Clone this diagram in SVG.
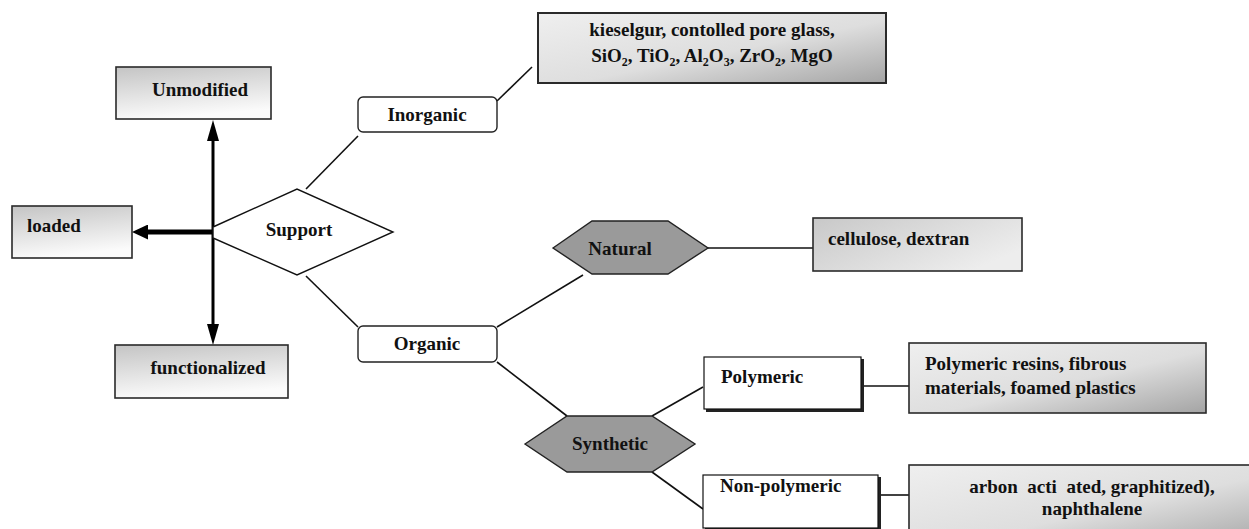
<svg xmlns="http://www.w3.org/2000/svg" width="1249" height="529" viewBox="0 0 1249 529" font-family="'Liberation Serif', 'Times New Roman', Times, serif">
<style>
text{font-family:'Liberation Serif','Times New Roman',Times,serif;font-weight:700;font-size:19px;fill:#111}
.sub{font-size:12px}
.bx{stroke:#2a2a2a;stroke-width:1.6}
.rb{fill:#fff;stroke:#222;stroke-width:1.4}
.hx{fill:#9a9a9a;stroke:#222;stroke-width:1.4}
.wb{fill:#fff;stroke:#111;stroke-width:1.2}
.sh{fill:#222}
#connectors line{stroke:#111;stroke-width:1.6}
#connectors .arr{stroke:#000}
</style>
<defs>
<linearGradient id="gv" x1="0" y1="0" x2="0.25" y2="1">
<stop offset="0" stop-color="#c4c4c4"/><stop offset="1" stop-color="#fbfbfb"/>
</linearGradient>
<linearGradient id="gd" x1="0" y1="0" x2="1" y2="1">
<stop offset="0" stop-color="#efefef"/><stop offset="0.55" stop-color="#dedede"/><stop offset="1" stop-color="#a4a4a4"/>
</linearGradient>
<linearGradient id="gc" x1="0" y1="0" x2="1" y2="0.6">
<stop offset="0" stop-color="#c8c8c8"/><stop offset="1" stop-color="#ededed"/>
</linearGradient>
<marker id="ahV" markerUnits="userSpaceOnUse" viewBox="0 0 21 12" markerWidth="21" markerHeight="12" refX="0" refY="6" orient="auto-start-reverse">
<path d="M0,0 L21,6 L0,12 z" fill="#000"/>
</marker>
<marker id="ahH" markerUnits="userSpaceOnUse" viewBox="0 0 16 15" markerWidth="16" markerHeight="15" refX="0" refY="7.5" orient="auto">
<path d="M0,0 L16,7.5 L0,15 z" fill="#000"/>
</marker>
</defs>

<g id="connectors">
<line class="arr" x1="213" y1="141" x2="213" y2="324" style="stroke-width:3" marker-start="url(#ahV)" marker-end="url(#ahV)"/>
<line class="arr" x1="213" y1="232" x2="148" y2="232" style="stroke-width:5" marker-end="url(#ahH)"/>
<line x1="306" y1="189" x2="358" y2="136"/>
<line x1="497" y1="101" x2="532" y2="67"/>
<line x1="306" y1="276" x2="358" y2="327"/>
<line x1="497" y1="327" x2="583" y2="275"/>
<line x1="497" y1="362" x2="567" y2="416"/>
<line x1="708" y1="248" x2="813" y2="248"/>
<line x1="652" y1="416" x2="703" y2="387"/>
<line x1="652" y1="472" x2="703" y2="509"/>
<line x1="862" y1="386" x2="909" y2="386"/>
<line x1="879" y1="495" x2="909" y2="495"/>
</g>

<g id="unmodified">
<rect class="bx" x="116" y="67" width="155" height="52" fill="url(#gv)"/>
<text x="200" y="96" text-anchor="middle">Unmodified</text>
</g>
<g id="loaded">
<rect class="bx" x="12" y="206" width="120" height="52" fill="url(#gv)"/>
<text x="27" y="232">loaded</text>
</g>
<g id="functionalized">
<rect class="bx" x="115" y="345" width="173" height="53" fill="url(#gv)"/>
<text x="208" y="374" text-anchor="middle">functionalized</text>
</g>
<g id="support">
<polygon points="213,227 297,189 393,232 297,275 213,238" fill="#fff" stroke="#111" stroke-width="1.4"/>
<text x="299" y="236" text-anchor="middle">Support</text>
</g>
<g id="inorganic">
<rect class="rb" x="358" y="97" width="139" height="35" rx="5"/>
<text x="427" y="121" text-anchor="middle">Inorganic</text>
</g>
<g id="organic">
<rect class="rb" x="358" y="326" width="139" height="36" rx="5"/>
<text x="427" y="350" text-anchor="middle">Organic</text>
</g>
<g id="inorganic-examples">
<rect class="bx" x="538" y="13" width="348" height="70" fill="url(#gd)" style="stroke-width:2"/>
<text x="712" y="36" text-anchor="middle">kieselgur, contolled pore glass,</text>
<text x="712" y="62" text-anchor="middle">SiO<tspan class="sub" dy="4">2</tspan><tspan dy="-4">, TiO</tspan><tspan class="sub" dy="4">2</tspan><tspan dy="-4">, Al</tspan><tspan class="sub" dy="4">2</tspan><tspan dy="-4">O</tspan><tspan class="sub" dy="4">3</tspan><tspan dy="-4">, ZrO</tspan><tspan class="sub" dy="4">2</tspan><tspan dy="-4">, MgO</tspan></text>
</g>
<g id="natural">
<polygon class="hx" points="553,248 592,221 668,221 708,248 668,274 592,274"/>
<text x="620" y="255" text-anchor="middle">Natural</text>
</g>
<g id="natural-examples">
<rect class="bx" x="813" y="218" width="209" height="53" fill="url(#gc)"/>
<text x="828" y="245">cellulose, dextran</text>
</g>
<g id="synthetic">
<polygon class="hx" points="525,444 567,416 652,416 695,444 652,472 567,472"/>
<text x="610" y="450" text-anchor="middle">Synthetic</text>
</g>
<g id="polymeric">
<rect class="sh" x="706" y="359" width="158" height="53"/>
<rect class="wb" x="704" y="357" width="157" height="52"/>
<text x="721" y="383">Polymeric</text>
</g>
<g id="polymeric-examples">
<rect class="bx" x="909" y="343" width="297" height="70" fill="url(#gd)"/>
<text x="925" y="370">Polymeric resins, fibrous</text>
<text x="925" y="394">materials, foamed plastics</text>
</g>
<g id="non-polymeric">
<rect class="sh" x="705" y="477" width="176" height="53"/>
<rect class="wb" x="703" y="475" width="175" height="53"/>
<text x="720" y="492">Non-polymeric</text>
</g>
<g id="non-polymeric-examples">
<rect class="bx" x="909" y="465" width="366" height="80" fill="url(#gd)"/>
<text x="1092" y="493" text-anchor="middle" xml:space="preserve">arbon  acti  ated, graphitized),</text>
<text x="1092" y="515" text-anchor="middle">naphthalene</text>
</g>
</svg>
